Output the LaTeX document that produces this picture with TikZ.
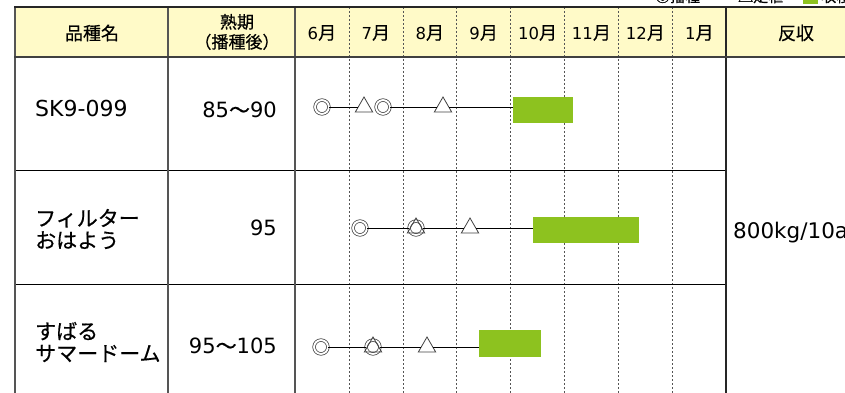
\documentclass[tikz,border=0pt]{standalone}
\usepackage{fontspec}
\setmainfont[FakeBold=0.5]{Noto Sans CJK JP}
\newfontfamily\latinfont{DejaVu Sans}
\usetikzlibrary{shapes.geometric}
\definecolor{headfill}{RGB}{255,250,200}
\definecolor{harvest}{RGB}{141,194,31}
\definecolor{rulegray}{RGB}{85,85,85}

\tikzset{
  sow/.style={circle, draw=black!75, line width=0.75pt, double, double distance=1.9pt, minimum size=13.8pt, inner sep=0pt},
  plant/.style={regular polygon, regular polygon sides=3, draw=black!75, line width=0.8pt, minimum size=20pt, inner sep=0pt},
  crop/.style={fill=harvest, anchor=west, inner sep=0pt},
  link/.style={line width=0.8pt},
  headtext/.style={font=\fontsize{18}{19}\selectfont, align=center},
  celltext/.style={font=\fontsize{21}{22}\selectfont, align=left, inner sep=0pt},
  monthline/.style={rulegray, line width=1pt, dash pattern=on 2pt off 2pt}
}

\begin{document}
\begin{tikzpicture}[x=1pt, y=-1pt]
  \useasboundingbox (0,0) rectangle (845,393);
  \begin{scope}
  \clip (0,0) rectangle (845,393);

  %%%%% HEADER %%%%%
  \fill[headfill] (15,7) rectangle (845,57);

  \foreach \x in {349,403,456,510,564,618,672}
    \draw[monthline] (\x,7) -- (\x,393);

  \draw[line width=1pt] (15,170) -- (726,170);
  \draw[line width=1pt] (15,284) -- (726,284);

  \draw[rulegray, line width=2pt] (15,7) -- (15,393);
  \draw[rulegray, line width=2pt] (168,7) -- (168,393);
  \draw[rulegray, line width=2pt] (295,7) -- (295,393);
  \draw[black!85, line width=1.5pt] (726,7) -- (726,393);
  \draw[black!85, line width=2.5pt] (14,7) -- (845,7);
  \draw[black!75, line width=2pt] (14,57) -- (845,57);

  \node[headtext] (hname) at (92,33) {品種名};
  \node[headtext, font=\fontsize{17}{20}\selectfont] (hdays) at (237,32) {熟期\\（播種後）};
  \foreach \m [count=\i] in {6,7,8,9,10,11,12,1}
    \node[headtext] (m\i) at ({295+53.9*(\i-0.5)},33) {{\latinfont\fontsize{16.5}{18}\selectfont\m}月};
  \node[headtext] (hyield) at (796,33) {反収};

  % legend, cut off at the top
  \node[anchor=base west, inner sep=0pt, font=\fontsize{15}{15}\selectfont] (lgsow) at (655,2) {◎播種};
  \node[anchor=base west, inner sep=0pt, font=\fontsize{15}{15}\selectfont] (lgplant) at (738,2) {△定植};
  \fill[harvest] (803,-10) rectangle (818,4);
  \node[anchor=base west, inner sep=0pt, font=\fontsize{15}{15}\selectfont] (lgcrop) at (821,2) {収穫};

  %%%%% ROWS %%%%%
  \node[celltext, anchor=west, font=\fontsize{22}{22}\selectfont] (v1) at (35,108) {\latinfont SK9-099};
  \node[celltext, anchor=east] (d1) at (277,110) {{\latinfont 85}〜{\latinfont 90}};
  \node[celltext, anchor=west] (v2) at (35,229) {フィルター\\おはよう};
  \node[celltext, anchor=east] (d2) at (277,228) {\latinfont 95};
  \node[celltext, anchor=west] (v3) at (35,342) {すばる\\サマードーム};
  \node[celltext, anchor=east] (d3) at (277,346) {{\latinfont 95}〜{\latinfont 105}};
  \node[celltext, anchor=west, font=\fontsize{21.5}{22}\selectfont] (yield) at (733,233) {\latinfont 800kg/10a};

  % SK9-099
  \node[sow] (s1a) at (322,107) {};
  \node[plant] (p1a) at (364,107) {};
  \node[sow] (s1b) at (383,107) {};
  \node[plant] (p1b) at (443,107) {};
  \node[crop, minimum width=60pt, minimum height=26.5pt] (c1) at (513,110) {};
  \draw[link] (s1a) -- (p1a);
  \draw[link] (s1b) -- (p1b);
  \draw[link] (p1b) -- (p1b -| c1.west);

  % フィルターおはよう
  \node[sow] (s2a) at (360,228) {};
  \node[sow] (s2b) at (416,228) {};
  \node[plant] (p2a) at (416,228) {};
  \node[plant] (p2b) at (470,228) {};
  \node[crop, minimum width=106pt, minimum height=26.5pt] (c2) at (533,230) {};
  \draw[link] (s2a) -- (s2b);
  \draw[link] (s2b) -- (p2b);
  \draw[link] (p2b) -- (p2b -| c2.west);

  % すばるサマードーム
  \node[sow] (s3a) at (321,347) {};
  \node[sow] (s3b) at (373,347) {};
  \node[plant] (p3a) at (373,347) {};
  \node[plant] (p3b) at (427,347) {};
  \node[crop, minimum width=62pt, minimum height=26.5pt] (c3) at (479,343.5) {};
  \draw[link] (s3a) -- (s3b);
  \draw[link] (s3b) -- (p3b);
  \draw[link] (p3b) -- (p3b -| c3.west);
  \end{scope}
\end{tikzpicture}
\end{document}
